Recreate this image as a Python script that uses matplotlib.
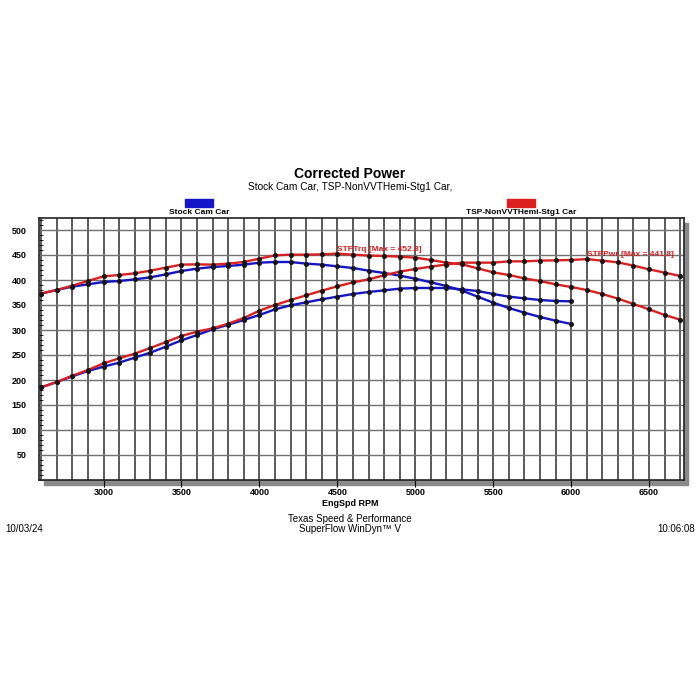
import matplotlib
matplotlib.use("Agg")
import matplotlib.pyplot as plt
from matplotlib.patches import Rectangle
from matplotlib.ticker import MultipleLocator

plt.rcParams['font.family'] = ['Liberation Sans', 'DejaVu Sans']

# data
rpm_stock = list(range(2600, 6100, 100))
rpm_tsp = list(range(2600, 6800, 100))

stock_trq = [373, 380, 386.7, 391.3, 396, 398, 401.3, 405.3, 411.3, 418, 422.7,
             426, 428, 430.7, 434.7, 436, 436, 432.7, 430.7, 427.3, 424, 418.7,
             414, 408.7, 402.7, 395.3, 388, 378.7, 366.7, 354.7, 344, 334.7, 326,
             318.7, 312]
stock_pwr = [185.3, 196, 207.3, 218, 226.7, 234.7, 244.7, 254.7, 266.7, 279.3,
             290, 301.3, 310.7, 320, 330, 341.3, 349.3, 355.3, 361.3, 366.7, 372,
             376, 379.3, 382.7, 384, 384, 384, 381.3, 378, 372, 366.7, 363.3, 360,
             358, 357.3]
tsp_trq = [373, 380, 388.7, 398, 407.3, 410, 413.3, 418.7, 424.7, 430.7, 431.3,
           430.7, 432.7, 436, 442.7, 449.3, 450.7, 450.7, 451.3, 452.8, 450.7,
           448.7, 448, 446.7, 444.7, 440, 434.7, 431.3, 423.3, 415.3, 410, 403.3,
           398, 391.3, 386, 380, 372, 362.7, 352, 341.3, 330, 320.7]
tsp_pwr = [185.3, 196, 208.7, 220, 233.3, 243.3, 252.7, 264, 276, 288, 296.7,
           303.3, 312.7, 324, 338.7, 350, 360, 369.3, 378.7, 387.3, 395.3, 401.3,
           409.3, 416.7, 422, 426.7, 431, 434.7, 434.7, 434.7, 437.3, 437.3, 438.7,
           439.3, 440, 441.8, 438.7, 435.3, 428.7, 421.3, 414.7, 408]

names = ["Stock Cam Car", "TSP-NonVVTHemi-Stg1 Car"]
BLUE = '#1414c8'
RED = '#dc1e1e'
W, H = 700.0, 700.0


def fx(x):
  return x / W


def fy(y):
  return 1 - y / H


fig = plt.figure(figsize=(7, 7), dpi=100)

# drop shadow behind the plot frame
fig.patches.append(Rectangle((fx(44), fy(484.5)), (688 - 44) / W, (484.5 - 223) / H,
                             transform=fig.transFigure, color='#8a8a8a', zorder=-1))

ax = fig.add_axes([fx(39), fy(480), (684 - 39) / W, (480 - 218) / H])
ax.set_facecolor('white')
ax.set_xlim(2586, 6724)
ax.set_ylim(0, 524)

ax.xaxis.set_major_locator(MultipleLocator(500))
ax.xaxis.set_minor_locator(MultipleLocator(100))
ax.set_yticks(range(50, 501, 50))
ax.yaxis.set_minor_locator(MultipleLocator(10))
ax.set_xticks(range(3000, 6501, 500))

ax.grid(which='both', axis='x', color='#404040', lw=1.2)
ax.grid(which='major', axis='y', color='#707070', lw=1.0)
ax.set_axisbelow(True)

ax.tick_params(axis='x', which='major', length=5, width=0.8, direction='out',
               labelsize=6.5, pad=1)
ax.tick_params(axis='x', which='minor', length=0)
ax.tick_params(axis='y', which='major', length=0, labelsize=6.5, pad=9)
ax.tick_params(axis='y', which='minor', length=3, width=0.6, direction='in')
for lab in ax.get_xticklabels() + ax.get_yticklabels():
  lab.set_fontweight('bold')
for sp in ax.spines.values():
  sp.set_color('#222222')
  sp.set_linewidth(1.2)

mk = dict(marker='o', ms=2.6, mfc='#151515', mec='#151515', lw=1.7)
ax.plot(rpm_stock, stock_trq, color=BLUE, **mk)
ax.plot(rpm_stock, stock_pwr, color=BLUE, **mk)
ax.plot(rpm_tsp, tsp_trq, color=RED, **mk)
ax.plot(rpm_tsp, tsp_pwr, color=RED, **mk)

ax.text(4497, 461, "STPTrq [Max = %.1f]" % max(tsp_trq), color=RED, fontsize=6,
        fontweight='bold', va='center', ha='left')
ax.text(6100, 451, "STPPwr [Max = %.1f]" % max(tsp_pwr), color=RED, fontsize=6,
        fontweight='bold', va='center', ha='left')

fig.text(fx(350), fy(504), "EngSpd RPM", ha='center', va='center',
         fontsize=6.5, fontweight='bold')

# header
fig.text(fx(350), fy(174), "Corrected Power", ha='center', va='center',
         fontsize=10, fontweight='bold')
fig.text(fx(350), fy(187), "Stock Cam Car, TSP-NonVVTHemi-Stg1 Car,", ha='center',
         va='center', fontsize=7.3)

# legend boxes
for cx, col, name in [(199, BLUE, names[0]), (521, RED, names[1])]:
  fig.patches.append(Rectangle((fx(cx - 14), fy(207)), 28 / W, 8 / H,
                               transform=fig.transFigure, color=col))
  fig.text(fx(cx), fy(213), name, ha='center', va='center', fontsize=6,
           fontweight='bold')

# footer
fig.text(fx(350), fy(518.5), "Texas Speed & Performance", ha='center', va='center',
         fontsize=7)
fig.text(fx(350), fy(529.5), "SuperFlow WinDyn\u2122 V", ha='center', va='center',
         fontsize=7)
fig.text(fx(5), fy(529), "10/03/24", ha='left', va='center', fontsize=7)
fig.text(fx(695), fy(529), "10:06:08", ha='right', va='center', fontsize=7)

fig.savefig("out.png", dpi=100, facecolor='white')
